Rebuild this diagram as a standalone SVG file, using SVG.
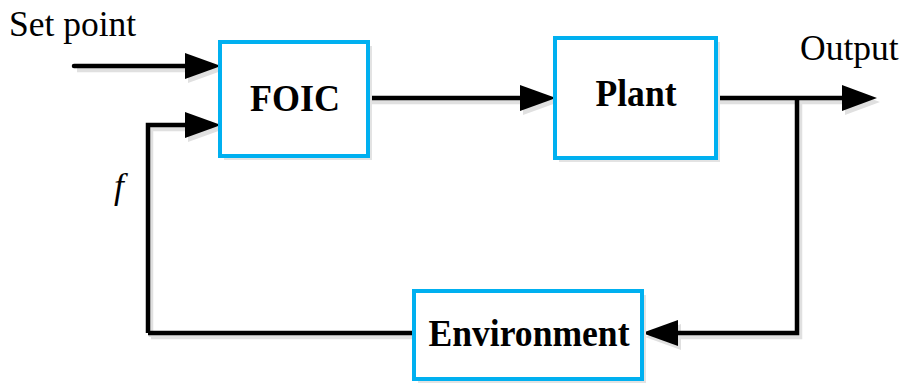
<svg xmlns="http://www.w3.org/2000/svg" width="907" height="383" viewBox="0 0 907 383">
<style>
.box{fill:#fff;stroke:#00b0f0;stroke-width:4}
.sh{fill:#e3e3e3}
.lbl{font-family:"Liberation Serif","Times New Roman",serif;font-weight:bold;font-size:37px;fill:#000;text-anchor:middle}
.txt{font-family:"Liberation Serif","Times New Roman",serif;font-size:35.5px;fill:#000}
.ln{fill:none;stroke:#000;stroke-width:4.5}
.lns{fill:none;stroke:#e0e0e0;stroke-width:4.5}
.hd{fill:#000}
.hds{fill:#e0e0e0}
</style>
<g id="connectors">
<g transform="translate(3,4)">
<path class="lns" d="M74,66 L188,66"/>
<path class="hds" d="M185,53 L221,66 L185,79 Z"/>
<path class="lns" d="M148,333 L148,125 L188,125"/>
<path class="hds" d="M185,112 L221,125 L185,138 Z"/>
<path class="lns" d="M368,98 L522,98"/>
<path class="hds" d="M520,85 L556,98 L520,111 Z"/>
<path class="lns" d="M716,98 L845,98"/>
<path class="hds" d="M842,85 L877,98 L842,111 Z"/>
<path class="lns" d="M797,98 L797,333 L676,333"/>
<path class="hds" d="M678,320 L642,333 L678,346 Z"/>
<path class="lns" d="M148,333 L414,333"/>
</g>
<path class="ln" d="M74,66 L188,66" stroke-linecap="round"/>
<path class="hd" d="M185,53 L221,66 L185,79 Z"/>
<path class="ln" d="M148,333 L148,125 L188,125"/>
<path class="hd" d="M185,112 L221,125 L185,138 Z"/>
<path class="ln" d="M368,98 L522,98"/>
<path class="hd" d="M520,85 L556,98 L520,111 Z"/>
<path class="ln" d="M716,98 L845,98"/>
<path class="hd" d="M842,85 L877,98 L842,111 Z"/>
<path class="ln" d="M797,98 L797,333 L676,333"/>
<path class="hd" d="M678,320 L642,333 L678,346 Z"/>
<path class="ln" d="M148,333 L414,333"/>
</g>
<g id="foic">
<rect class="sh" x="224" y="46" width="148" height="114"/>
<rect class="box" x="220" y="42" width="148" height="114"/>
<text class="lbl" x="295" y="111" textLength="90" lengthAdjust="spacingAndGlyphs">FOIC</text>
</g>
<g id="plant">
<rect class="sh" x="559" y="42" width="161" height="120"/>
<rect class="box" x="555" y="38" width="161" height="120"/>
<text class="lbl" x="636" y="106" textLength="81" lengthAdjust="spacingAndGlyphs">Plant</text>
</g>
<g id="environment">
<rect class="sh" x="418" y="295" width="228" height="90"/>
<rect class="box" x="414" y="291" width="228" height="88"/>
<text class="lbl" x="529" y="346" textLength="201" lengthAdjust="spacingAndGlyphs">Environment</text>
</g>
<text class="txt" x="9" y="36">Set point</text>
<text class="txt" x="800" y="60">Output</text>
<text class="txt" x="114" y="198" font-style="italic" font-size="38">f</text>
</svg>
